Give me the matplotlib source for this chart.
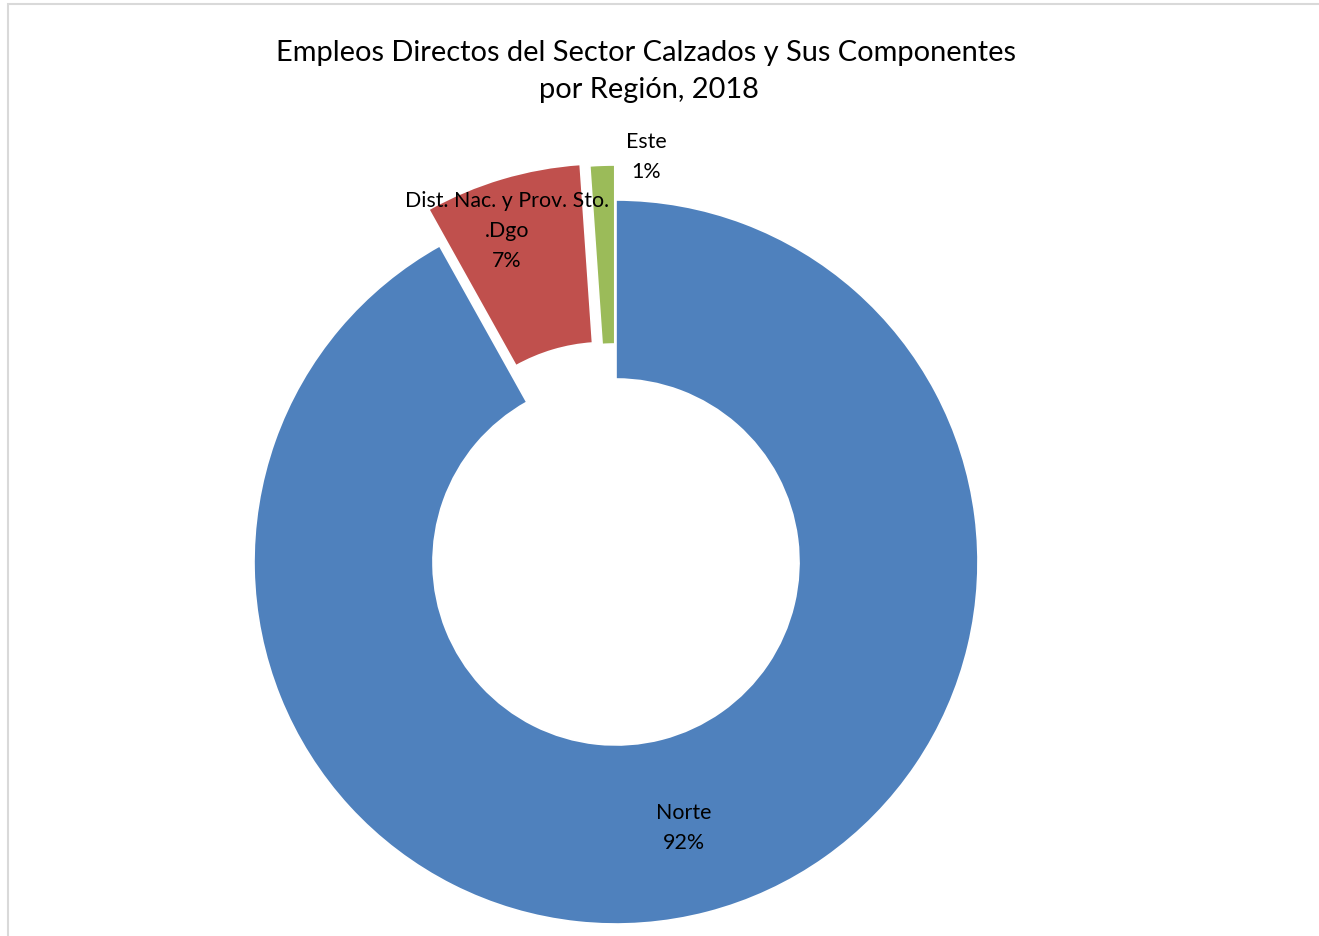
import matplotlib.pyplot as plt
import matplotlib.patches as patches

# Data (share of direct jobs, %)
regions = ['Norte', 'Dist. Nac. y Prov. Sto.\n.Dgo', 'Este']
shares = [91.9, 7.0, 1.1]
explode_px = [0, 38, 35]   # pie offsets (data units = pixels here)
colors = ['#4f81bd', '#c0504d', '#9bbb59']

W, H = 1319, 937
fig = plt.figure(figsize=(W / 100, H / 100), dpi=100)
ax = fig.add_axes([0, 0, 1, 1])

# pixel-like data coordinates (y up)
cx, cy, R = 616, H - 563, 362
ax.pie(shares, colors=colors, startangle=90, counterclock=False,
       explode=explode_px, radius=R, center=(cx, cy),
       wedgeprops=dict(width=R - 183, edgecolor='white', linewidth=1.2))
ax.set_xlim(0, W)
ax.set_ylim(0, H)
ax.set_aspect('auto')
ax.axis('off')

# chart border (top and left visible)
ax.add_patch(patches.Rectangle((8, -10), W, H - 5 + 10, fill=False,
                               edgecolor='#d9d9d9', linewidth=1.5))

font = 'Lato'
# Title
ax.text(646, H - 53, 'Empleos Directos del Sector Calzados y Sus Componentes',
        ha='center', va='center', fontsize=20.9, family=font)
ax.text(649, H - 90, 'por Región, 2018', ha='center', va='center',
        fontsize=20.9, family=font)

# Data labels
label_pos = [(684, 828), (507, 231), (646, 157)]
for name, val, (lx, ly) in zip(regions, shares, label_pos):
    ax.text(lx, H - ly, f'{name}\n{val:.0f}%', ha='center', va='center',
            fontsize=15.4, family=font, linespacing=1.65)

plt.savefig('out.png', dpi=100, facecolor='white')
